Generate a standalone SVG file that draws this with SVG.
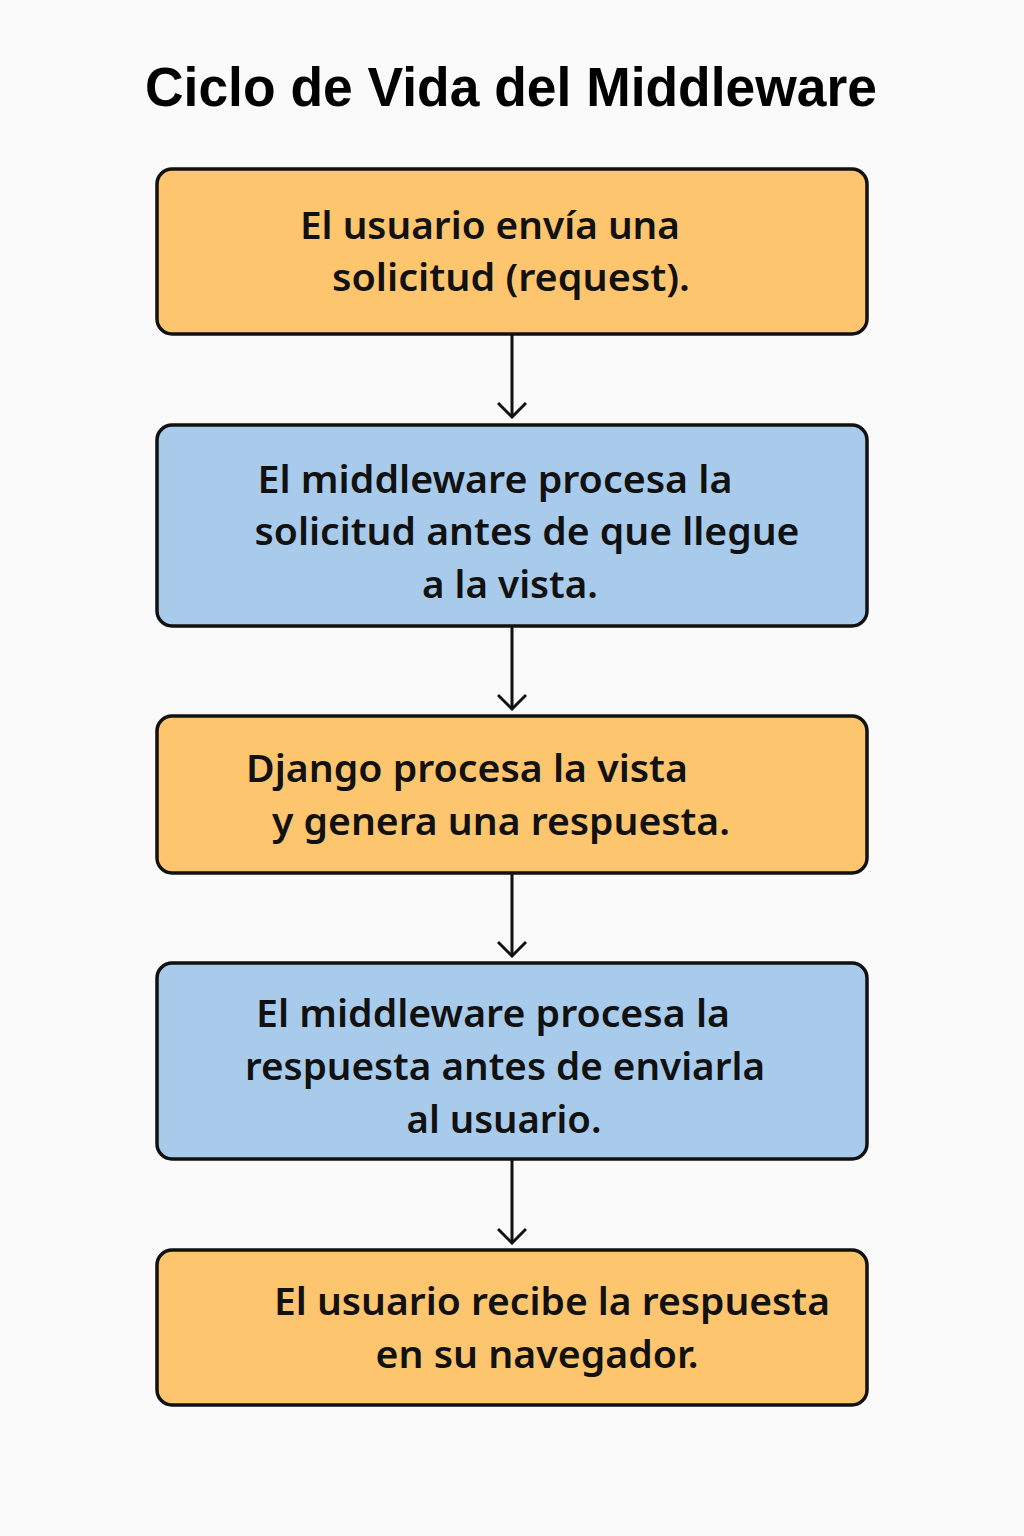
<svg xmlns="http://www.w3.org/2000/svg" width="1024" height="1536" viewBox="0 0 1024 1536">
<defs>
<style>
.bg{fill:#FAFAFA}
.box{stroke:#111;stroke-width:3.5}
.o{fill:#FDC56E}
.b{fill:#A8CBEC}
.t{font-family:"Noto Sans","Liberation Sans",sans-serif;font-size:38px;font-weight:600;fill:#111;text-anchor:middle}
.title{font-family:"Liberation Sans",Arial,sans-serif;font-size:55px;font-weight:bold;fill:#000;text-anchor:middle}
.c{stroke:#111;stroke-width:3;fill:none}
</style>
<marker id="ah" viewBox="0 0 20 30" refX="18" refY="15" markerWidth="20" markerHeight="30" markerUnits="userSpaceOnUse" orient="auto">
<path d="M4 1 L18 15 L4 29" fill="none" stroke="#111" stroke-width="3"/>
</marker>
</defs>
<rect class="bg" x="0" y="0" width="1024" height="1536"/>
<text class="title" x="511" y="106" textLength="732" lengthAdjust="spacingAndGlyphs">Ciclo de Vida del Middleware</text>
<g id="connectors">
<line class="c" x1="512" y1="335" x2="512" y2="417" marker-end="url(#ah)"/>
<line class="c" x1="512" y1="627" x2="512" y2="709" marker-end="url(#ah)"/>
<line class="c" x1="512" y1="874" x2="512" y2="956" marker-end="url(#ah)"/>
<line class="c" x1="512" y1="1160" x2="512" y2="1243" marker-end="url(#ah)"/>
</g>
<g id="n1">
<rect class="box o" x="157" y="169" width="710" height="165" rx="15"/>
<text class="t" x="490" y="239" textLength="380" lengthAdjust="spacingAndGlyphs">El usuario envía una</text>
<text class="t" x="511" y="291" textLength="358" lengthAdjust="spacingAndGlyphs">solicitud (request).</text>
</g>
<g id="n2">
<rect class="box b" x="157" y="425" width="710" height="201" rx="15"/>
<text class="t" x="495" y="493" textLength="475" lengthAdjust="spacingAndGlyphs">El middleware procesa la</text>
<text class="t" x="527" y="545" textLength="545" lengthAdjust="spacingAndGlyphs">solicitud antes de que llegue</text>
<text class="t" x="510" y="598" textLength="176" lengthAdjust="spacingAndGlyphs">a la vista.</text>
</g>
<g id="n3">
<rect class="box o" x="157" y="716" width="710" height="157" rx="15"/>
<text class="t" x="467" y="782" textLength="442" lengthAdjust="spacingAndGlyphs">Django procesa la vista</text>
<text class="t" x="501" y="835" textLength="458" lengthAdjust="spacingAndGlyphs">y genera una respuesta.</text>
</g>
<g id="n4">
<rect class="box b" x="157" y="963" width="710" height="196" rx="15"/>
<text class="t" x="493" y="1027" textLength="474" lengthAdjust="spacingAndGlyphs">El middleware procesa la</text>
<text class="t" x="505" y="1080" textLength="520" lengthAdjust="spacingAndGlyphs">respuesta antes de enviarla</text>
<text class="t" x="504" y="1133" textLength="195" lengthAdjust="spacingAndGlyphs">al usuario.</text>
</g>
<g id="n5">
<rect class="box o" x="157" y="1250" width="710" height="155" rx="15"/>
<text class="t" x="552" y="1315" textLength="556" lengthAdjust="spacingAndGlyphs">El usuario recibe la respuesta</text>
<text class="t" x="537" y="1368" textLength="323" lengthAdjust="spacingAndGlyphs">en su navegador.</text>
</g>
</svg>
